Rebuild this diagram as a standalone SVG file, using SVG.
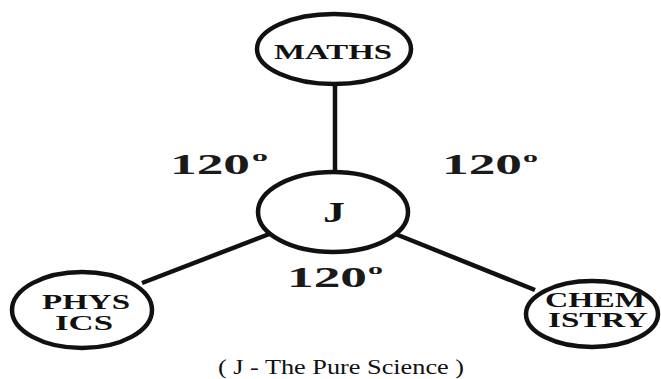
<svg xmlns="http://www.w3.org/2000/svg" width="661" height="379" viewBox="0 0 661 379">
<style>
.node ellipse{fill:#fff;stroke:#111;stroke-width:4.5}
.lbl{font-family:"Liberation Serif","Times New Roman",serif;font-weight:bold;fill:#111;text-anchor:middle}
.ang{font-family:"Liberation Serif","Times New Roman",serif;font-weight:bold;fill:#1a1a1a}
.cap{font-family:"Liberation Serif","Times New Roman",serif;fill:#111;text-anchor:middle;font-size:20px}
.edge{stroke:#111;stroke-width:4.5;fill:none}
</style>
<rect width="661" height="379" fill="#fff"/>
<g id="connectors">
<line class="edge" x1="335" y1="84" x2="335" y2="173"/>
<line class="edge" x1="142" y1="283" x2="272" y2="233"/>
<line class="edge" x1="393" y1="233" x2="535" y2="290"/>
</g>
<g id="maths" class="node">
<ellipse cx="334" cy="49" rx="77" ry="35"/>
<text class="lbl" x="333" y="59" font-size="22" textLength="118" lengthAdjust="spacingAndGlyphs">MATHS</text>
</g>
<g id="j" class="node">
<ellipse cx="333" cy="212" rx="75" ry="40"/>
<text class="lbl" x="334" y="222" font-size="30" textLength="22" lengthAdjust="spacingAndGlyphs">J</text>
</g>
<g id="physics" class="node">
<ellipse cx="82" cy="310" rx="70" ry="38"/>
<text class="lbl" x="86" y="309" font-size="20" textLength="88" lengthAdjust="spacingAndGlyphs">PHYS</text>
<text class="lbl" x="84" y="330" font-size="20" textLength="58" lengthAdjust="spacingAndGlyphs">ICS</text>
</g>
<g id="chemistry" class="node">
<ellipse cx="592" cy="314" rx="66" ry="33"/>
<text class="lbl" x="595" y="307" font-size="20" textLength="100" lengthAdjust="spacingAndGlyphs">CHEM</text>
<text class="lbl" x="598" y="327" font-size="20" textLength="100" lengthAdjust="spacingAndGlyphs">ISTRY</text>
</g>
<g id="angles">
<text class="ang" x="170" y="174" font-size="30" textLength="80" lengthAdjust="spacingAndGlyphs">120</text>
<text class="ang" x="252" y="161" font-size="15" textLength="16" lengthAdjust="spacingAndGlyphs">o</text>
<text class="ang" x="442" y="174" font-size="30" textLength="80" lengthAdjust="spacingAndGlyphs">120</text>
<text class="ang" x="523" y="162" font-size="15" textLength="15" lengthAdjust="spacingAndGlyphs">o</text>
<text class="ang" x="287" y="287" font-size="30" textLength="80" lengthAdjust="spacingAndGlyphs">120</text>
<text class="ang" x="368" y="274" font-size="15" textLength="15" lengthAdjust="spacingAndGlyphs">o</text>
</g>
<text class="cap" x="341" y="374" textLength="246" lengthAdjust="spacingAndGlyphs">( J - The Pure Science )</text>
</svg>
